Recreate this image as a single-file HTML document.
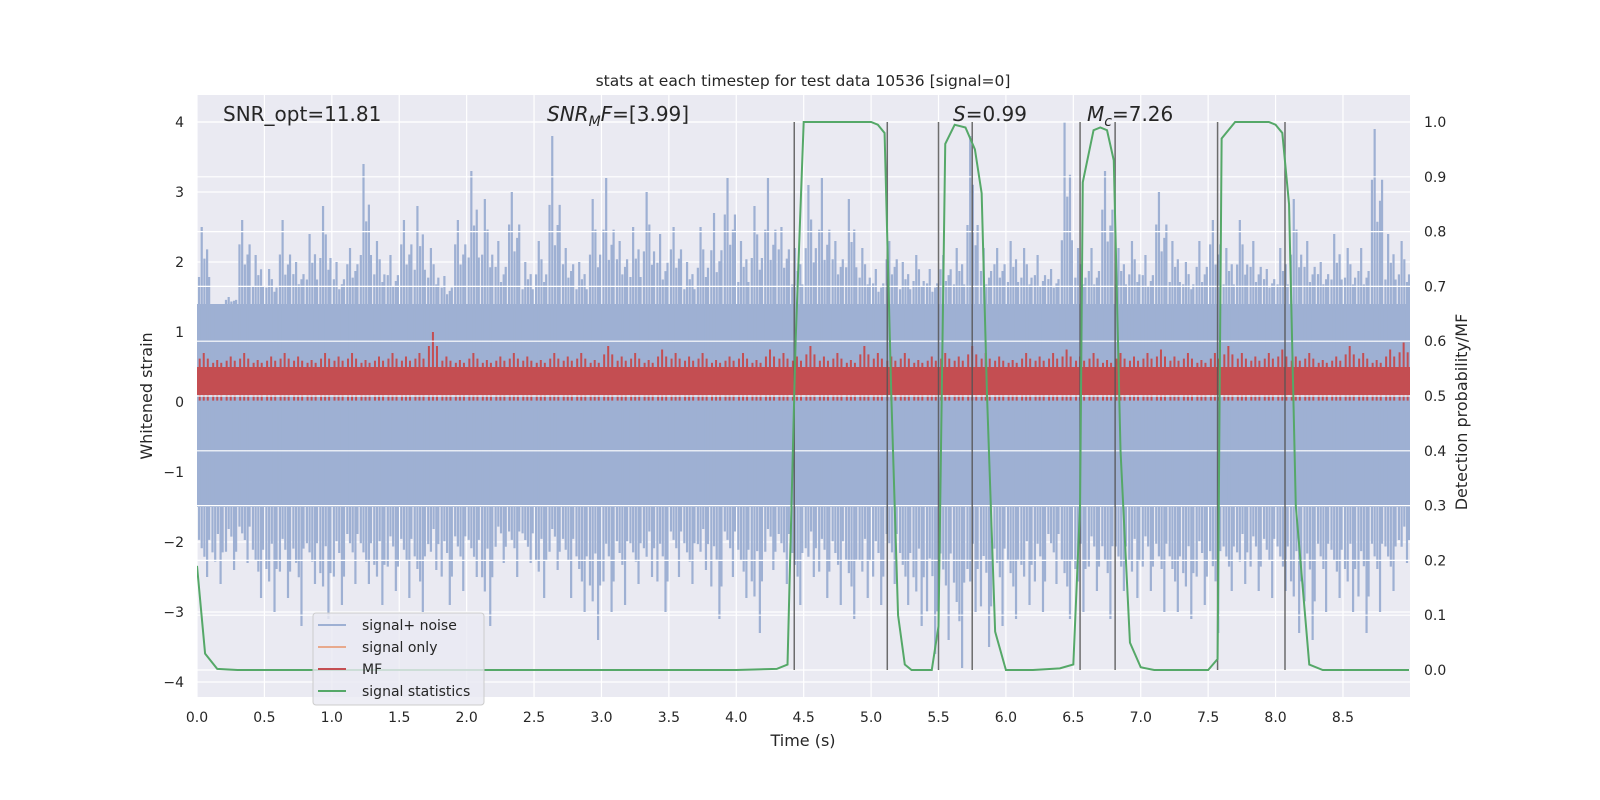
<!DOCTYPE html>
<html><head><meta charset="utf-8"><style>
html,body{margin:0;padding:0;background:#fff;overflow:hidden;width:1600px;height:800px;}
svg{display:block;}
svg text{font-family:"DejaVu Sans","Liberation Sans",sans-serif;fill:#262626;}
</style></head><body>
<svg id="c" width="1600" height="800" xmlns="http://www.w3.org/2000/svg">
<g id="plot"></g>
<text x="803" y="86" font-size="15.5" text-anchor="middle">stats at each timestep for test data 10536 [signal=0]</text>
<text x="803" y="746" font-size="16" text-anchor="middle">Time (s)</text>
<text x="152" y="396" font-size="16" text-anchor="middle" transform="rotate(-90 152 396)">Whitened strain</text>
<text x="1467" y="412" font-size="16" text-anchor="middle" transform="rotate(-90 1467 412)">Detection probability/MF</text>
<text x="223" y="121" font-size="20">SNR_opt=11.81</text>
<text x="547" y="121" font-size="20"><tspan font-style="italic">SNR</tspan><tspan font-style="italic" font-size="14" dy="5">M</tspan><tspan font-style="italic" dy="-5">F</tspan>=[3.99]</text>
<text x="953" y="121" font-size="20"><tspan font-style="italic">S</tspan>=0.99</text>
<text x="1087" y="121" font-size="20"><tspan font-style="italic">M</tspan><tspan font-style="italic" font-size="14" dy="5">c</tspan><tspan dy="-5">=7.26</tspan></text>
<g>
<rect x="313" y="613" width="171" height="92" rx="3" fill="#eaeaf2" fill-opacity="0.8" stroke="#ccc"/>
<line x1="318" x2="346" y1="625" y2="625" stroke="#9eb0d3" stroke-width="2"/><text x="362" y="630" font-size="14">signal+ noise</text>
<line x1="318" x2="346" y1="647" y2="647" stroke="#e8a98c" stroke-width="2"/><text x="362" y="652" font-size="14">signal only</text>
<line x1="318" x2="346" y1="669" y2="669" stroke="#c44e52" stroke-width="2"/><text x="362" y="674" font-size="14">MF</text>
<line x1="318" x2="346" y1="691" y2="691" stroke="#55a868" stroke-width="2"/><text x="362" y="696" font-size="14">signal statistics</text>
</g>
</svg>
<script>
const upperMax=[2.5,1.4,1.5,2.6,2.1,1.9,2.6,2.0,2.4,2.8,2.0,2.2,3.4,2.3,2.1,2.6,2.8,2.2,1.8,2.6,3.3,2.9,2.3,3.0,2.0,2.3,3.8,2.2,2.0,2.9,3.2,2.3,2.5,3.0,2.4,2.5,2.0,2.5,2.7,3.2,2.3,2.8,3.2,2.5,2.2,3.1,3.2,2.3,2.9,2.2,1.9,2.3,2.0,2.1,1.9,2.1,2.2,3.8,2.2,2.2,2.3,2.2,2.1,1.9,4.0,2.2,2.2,3.3,2.2,2.3,2.1,3.0,2.3,2.0,2.3,2.6,2.2,2.6,2.3,1.9,2.2,2.9,2.3,2.0,2.4,2.2,2.2,3.9,2.4,2.3];
const lowerMin=[-2.5,-2.6,-2.4,-2.3,-2.8,-3.0,-2.8,-3.2,-2.6,-3.1,-2.9,-2.6,-2.6,-2.9,-2.7,-2.8,-3.0,-2.4,-2.9,-2.7,-2.5,-3.2,-2.3,-2.5,-2.3,-2.8,-2.4,-2.8,-3.0,-3.4,-3.0,-2.9,-2.6,-2.5,-3.0,-2.5,-2.6,-2.4,-3.1,-2.5,-2.8,-3.3,-2.4,-2.6,-2.9,-2.5,-2.8,-2.9,-3.1,-2.8,-2.9,-2.6,-2.9,-3.2,-3.6,-3.4,-3.8,-3.0,-3.5,-3.2,-3.1,-2.9,-3.0,-2.6,-3.1,-3.0,-2.7,-3.1,-2.7,-2.8,-2.7,-3.0,-3.0,-3.1,-2.9,-3.3,-2.7,-2.6,-2.7,-2.8,-2.7,-3.3,-3.4,-3.0,-2.8,-3.0,-3.3,-3.0,-2.7,-2.3];
const mfMax=[0.7,0.6,0.65,0.7,0.6,0.65,0.7,0.65,0.6,0.7,0.65,0.7,0.6,0.65,0.7,0.65,0.7,1.0,0.65,0.6,0.7,0.6,0.65,0.7,0.65,0.6,0.7,0.65,0.7,0.6,0.8,0.65,0.7,0.6,0.75,0.7,0.65,0.7,0.6,0.65,0.7,0.6,0.75,0.7,0.65,0.8,0.65,0.7,0.6,0.8,0.7,0.65,0.7,0.6,0.65,0.7,0.65,0.8,0.7,0.65,0.6,0.7,0.65,0.7,0.75,0.65,0.7,0.6,0.7,0.65,0.7,0.75,0.65,0.7,0.6,0.7,0.8,0.7,0.65,0.7,0.75,0.65,0.7,0.6,0.65,0.8,0.7,0.6,0.75,0.85];
const statT=[0,0.06,0.15,0.3,1,2,3,4,4.3,4.38,4.44,4.5,4.8,5.0,5.05,5.1,5.15,5.2,5.25,5.3,5.45,5.5,5.55,5.62,5.7,5.77,5.82,5.86,5.92,6.0,6.2,6.4,6.5,6.55,6.57,6.65,6.7,6.75,6.8,6.85,6.92,7.0,7.1,7.5,7.57,7.6,7.7,7.95,8.0,8.05,8.1,8.15,8.25,8.35,8.99];
const statP=[0.19,0.03,0.002,0,0,0,0,0,0.002,0.01,0.6,1.0,1.0,1.0,0.995,0.98,0.5,0.1,0.01,0,0,0.08,0.96,0.995,0.99,0.95,0.87,0.5,0.07,0,0,0.003,0.01,0.3,0.89,0.985,0.99,0.985,0.93,0.4,0.05,0.005,0,0,0.02,0.97,1.0,1.0,0.995,0.98,0.85,0.3,0.01,0,0];
const vlines=[4.43,5.12,5.5,5.75,6.55,6.81,7.57,8.07];
const leftTicks=[-4,-3,-2,-1,0,1,2,3,4];
const rightTicks=[0,0.1,0.2,0.3,0.4,0.5,0.6,0.7,0.8,0.9,1.0];
const xTicks=[0,0.5,1,1.5,2,2.5,3,3.5,4,4.5,5,5.5,6,6.5,7,7.5,8,8.5];

const NS="http://www.w3.org/2000/svg",svg=document.getElementById('plot');
const X0=197,X1=1410,Y0=95,Y1=697;
const x=t=>X0+t*134.82, yl=v=>402-v*70, yr=p=>670-p*548;
function el(tag,a,parent){const e=document.createElementNS(NS,tag);for(const k in a)e.setAttribute(k,a[k]);(parent||svg).appendChild(e);return e;}
const clip=el('clipPath',{id:'pc'});el('rect',{x:X0,y:Y0,width:X1-X0,height:Y1-Y0},clip);
const bg=el('rect',{x:X0,y:Y0,width:X1-X0,height:Y1-Y0,fill:'#eaeaf2'});


const g=el('g',{'clip-path':'url(#pc)'});
xTicks.forEach(t=>el('line',{x1:x(t),x2:x(t),y1:Y0,y2:Y1,stroke:'#fff','stroke-width':1.2},g));
leftTicks.forEach(v=>el('line',{x1:X0,x2:X1,y1:yl(v),y2:yl(v),stroke:'#fff','stroke-width':1.2},g));
const noise=el('g',{},g);


el('rect',{x:X0,y:yl(1.4),width:X1-X0,height:yl(-1.5)-yl(1.4),fill:'#9eb0d3'},noise);
const bw=0.1;
upperMax.forEach((m,i)=>{
  const t=i*bw;
  const offs=[0.15,0.35,0.55,0.75,0.9];
  offs.forEach((o,k)=>{
    const hi=k==1?m:1.4+(m-1.4)*(0.35+0.12*((i+k)%4));
    const lo=k==3?lowerMin[i]:-1.5+(lowerMin[i]+1.5)*(0.35+0.12*((i+k+1)%4));
    el('line',{x1:x(t+o*bw),x2:x(t+o*bw),y1:yl(hi),y2:yl(lo),stroke:'#9eb0d3','stroke-width':2.2},noise);
  });
});
const mf=el('g',{},g);


el('rect',{x:X0,y:yl(0.5),width:X1-X0,height:yl(0.1)-yl(0.5),fill:'#c44e52'},mf);
mfMax.forEach((m,i)=>{
  const t=i*bw;
  [0.2,0.5,0.8].forEach((o,k)=>{
    const hi=k==1?m:0.5+(m-0.5)*0.6;
    el('line',{x1:x(t+o*bw),x2:x(t+o*bw),y1:yl(hi),y2:yl(0.02),stroke:'#c44e52','stroke-width':2},mf);
  });
});
rightTicks.forEach(p=>el('line',{x1:X0,x2:X1,y1:yr(p),y2:yr(p),stroke:'#fff','stroke-width':1.2},g));
vlines.forEach(t=>{const l=el('line',{x1:x(t),x2:x(t),y1:yr(1),y2:yr(0),stroke:'#555','stroke-width':1.5,'stroke-opacity':0.85},g);

});
const gp=el('polyline',{points:statT.map((t,i)=>x(t)+','+yr(statP[i])).join(' '),fill:'none',stroke:'#55a868','stroke-width':2},g);


xTicks.forEach(t=>{const tx=el('text',{x:x(t),y:722,'font-size':14,'text-anchor':'middle'});tx.textContent=t.toFixed(1);

});
leftTicks.forEach(v=>{const tx=el('text',{x:184,y:yl(v)+5,'font-size':14,'text-anchor':'end'});tx.textContent=v<0?'\u2212'+(-v):v;

});
rightTicks.forEach(p=>{const tx=el('text',{x:1424,y:yr(p)+5,'font-size':14});tx.textContent=p.toFixed(1);

});
</script>
</body></html>
